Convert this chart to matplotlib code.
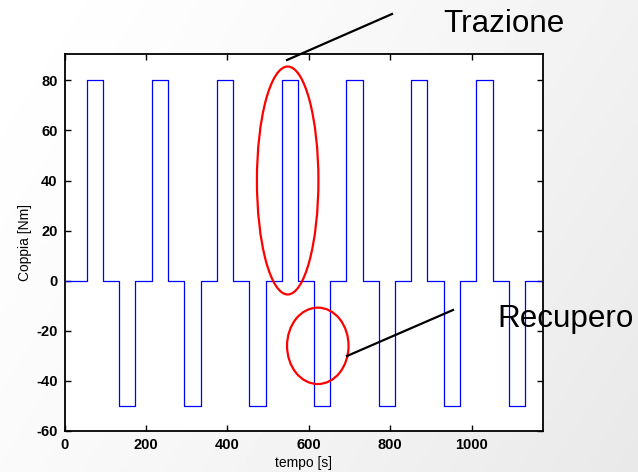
import numpy as np
import matplotlib
matplotlib.use("Agg")
import matplotlib.pyplot as plt
from matplotlib.patches import Ellipse

# breakpoints of the torque profile (step, held until next time)
tempo = [0, 55, 95, 134, 174, 215, 254, 294, 334, 374, 414, 454, 494,
         533, 573, 613, 653, 692, 732, 772, 812, 851, 891, 931, 971,
         1011, 1051, 1091, 1131, 1175]
coppia = [0, 80, 0, -50, 0, 80, 0, -50, 0, 80, 0, -50, 0,
          80, 0, -50, 0, 80, 0, -50, 0, 80, 0, -50, 0,
          80, 0, -50, 0, 0]

x_ticks = [0, 200, 400, 600, 800, 1000]
y_ticks = [-60, -40, -20, 0, 20, 40, 60, 80]

# highlighted regions: (centre t, centre torque, width, height)
trazione_zone = (548, 40, 151, 91)
recupero_zone = (622, -26, 151, 30.5)

plt.rcParams["font.family"] = ["Liberation Sans", "DejaVu Sans"]
plt.rcParams["axes.unicode_minus"] = False

W, H = 638, 472
fig = plt.figure(figsize=(W / 100, H / 100), dpi=100)

# soft grey slide background
bg = fig.add_axes([0, 0, 1, 1], zorder=-10)
gx, gy = np.meshgrid(np.linspace(0, 1, 200), np.linspace(0, 1, 150))
shade = 255 - 20 * (0.75 * gx + 0.35 * gy) ** 1.3
bg.imshow(shade, cmap="gray", vmin=0, vmax=255, aspect="auto", extent=[0, 1, 0, 1])
bg.axis("off")

ax = fig.add_axes([64.5 / W, 41 / H, (543 - 64.5) / W, 377 / H])
ax.set_facecolor("white")
ax.step(tempo, coppia, where="post", color="#0000ff", lw=0.9)

ax.set_xlim(0, 1175)
ax.set_ylim(-60, 90.5)
ax.set_xticks(x_ticks)
ax.set_yticks(y_ticks)
ax.tick_params(direction="in", length=4, width=1, top=True, right=True,
               labelsize=10.5, pad=5)
for lab in ax.get_xticklabels() + ax.get_yticklabels():
    lab.set_fontweight("bold")
for sp in ax.spines.values():
    sp.set_linewidth(1.3)

ax.set_xlabel("tempo [s]", fontsize=10, labelpad=3)
ax.set_ylabel("Coppia [Nm]", fontsize=10, labelpad=3)

for cx, cy, w, h in (trazione_zone, recupero_zone):
    ax.add_patch(Ellipse((cx, cy), w, h, fill=False, ec="red", lw=1.6,
                         clip_on=False, zorder=5))

# callout lines and labels in pixel space
def px(x, y):
    return x / W, 1 - y / H

fig.add_artist(plt.Line2D(*zip(px(287, 60), px(392, 14)), color="black", lw=1.6))
fig.add_artist(plt.Line2D(*zip(px(347, 356), px(453, 310)), color="black", lw=1.6))
fig.text(*px(443, 32), "Trazione", fontsize=22.6, va="baseline", ha="left")
fig.text(*px(497, 327), "Recupero", fontsize=22.6, va="baseline", ha="left")

fig.savefig("out.png", dpi=100)
